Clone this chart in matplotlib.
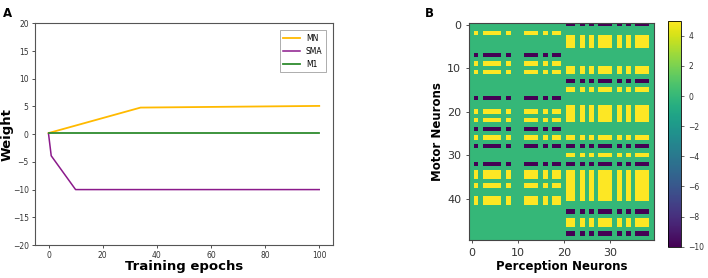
import numpy as np
import matplotlib
matplotlib.use("Agg")
import matplotlib.pyplot as plt

# ---------------- Panel A data ----------------
mn_epochs = [0, 34, 100]
mn_weight = [0.2, 4.8, 5.1]
sma_epochs = [0, 1, 10, 100]
sma_weight = [0.1, -3.9, -10.0, -10.0]
m1_epochs = [0, 100]
m1_weight = [0.2, 0.2]

# ---------------- Panel B data ----------------
# row values (motor neurons 0..49) for perception block 1 and block 2
rows_block1 = [0, 0, 5, 0, 0, 0, 0, -10, 0, 5,
               0, 5, 0, 0, 0, 0, 0, -10, 0, 0,
               5, 0, 5, 0, -10, 0, 5, 0, -10, 0,
               0, 0, -10, 0, 5, 5, 0, 5, 0, 0,
               5, 5, 0, 0, 0, 0, 0, 0, 0, 0]
rows_block2 = [-10, 0, 0, 5, 5, 5, 0, 0, 0, 0,
               5, 5, 0, -10, 0, 5, 0, 0, 0, 5,
               5, 5, 5, 0, 0, 0, 5, 0, -10, 0,
               5, 0, -10, 0, 5, 5, 5, 5, 5, 5,
               5, 0, 0, -10, 0, 5, 5, 0, -10, 0]
# column masks (perception neurons 0..39)
cols_block1 = [0, 1, 0, 1, 1, 1, 1, 0, 1, 0,
               0, 0, 1, 1, 1, 0, 1, 0, 1, 1,
               0, 0, 0, 0, 0, 0, 0, 0, 0, 0,
               0, 0, 0, 0, 0, 0, 0, 0, 0, 0]
cols_block2 = [0, 0, 0, 0, 0, 0, 0, 0, 0, 0,
               0, 0, 0, 0, 0, 0, 0, 0, 0, 0,
               0, 1, 1, 0, 1, 0, 1, 0, 1, 1,
               1, 0, 1, 0, 1, 0, 1, 1, 1, 0]

W = (np.outer(rows_block1, cols_block1) + np.outer(rows_block2, cols_block2)).astype(float)

fig = plt.figure(figsize=(7.08, 2.78), dpi=100)

# ---------------- Panel A ----------------
axA = fig.add_axes([0.0494, 0.1187, 0.4206, 0.7973])
axA.plot(mn_epochs, mn_weight, color="#FFBA00", lw=1.3, label="MN")
axA.plot(sma_epochs, sma_weight, color="#8B1A8B", lw=1.1, label="SMA")
axA.plot(m1_epochs, m1_weight, color="#2E8B2E", lw=1.3, label="M1")
axA.set_ylim(-20, 20)
axA.set_xlim(-5, 105)
axA.set_yticks(np.arange(-20, 21, 5))
axA.set_xticks(np.arange(0, 101, 20))
axA.tick_params(labelsize=5.5, length=2.5, width=0.6, colors="#333333", pad=2)
for s in axA.spines.values():
    s.set_linewidth(0.8)
    s.set_color("#555555")
axA.set_xlabel("Training epochs", fontsize=9.5, fontweight="bold")
axA.set_ylabel("Weight", fontsize=9.5, fontweight="bold")
axA.xaxis.set_label_coords(0.5, -0.068)
axA.yaxis.set_label_coords(-0.072, 0.5)
leg = axA.legend(loc="upper right", fontsize=5.5, frameon=True, fancybox=False,
                 handlelength=2.2, borderpad=0.45, labelspacing=0.5,
                 bbox_to_anchor=(0.99, 0.985))
leg.get_frame().set_linewidth(0.6)
leg.get_frame().set_edgecolor("#888888")
fig.text(0.004, 0.975, "A", fontsize=8.5, fontweight="bold", va="top", ha="left")

# ---------------- Panel B ----------------
axB = fig.add_axes([0.663, 0.1367, 0.2607, 0.7816])
im = axB.imshow(W, cmap="viridis", vmin=-10, vmax=5, aspect="auto",
                interpolation="nearest")
axB.set_xticks([0, 10, 20, 30])
axB.set_yticks([0, 10, 20, 30, 40])
axB.tick_params(labelsize=8, length=2.5, width=0.6, colors="#333333")
for s in axB.spines.values():
    s.set_linewidth(0.8)
    s.set_color("#444444")
axB.set_xlabel("Perception Neurons", fontsize=8.5, fontweight="bold", labelpad=1)
axB.set_ylabel("Motor Neurons", fontsize=8.5, fontweight="bold", labelpad=2)
fig.text(0.600, 0.975, "B", fontsize=8.5, fontweight="bold", va="top", ha="left")

cax = fig.add_axes([0.943, 0.1126, 0.0184, 0.813])
cb = fig.colorbar(im, cax=cax)
cb.set_ticks(np.arange(-10, 5, 2))
cb.ax.tick_params(labelsize=5.5, length=2, width=0.5, colors="#333333")
cb.outline.set_linewidth(0.6)

fig.savefig("out.png", dpi=100)
